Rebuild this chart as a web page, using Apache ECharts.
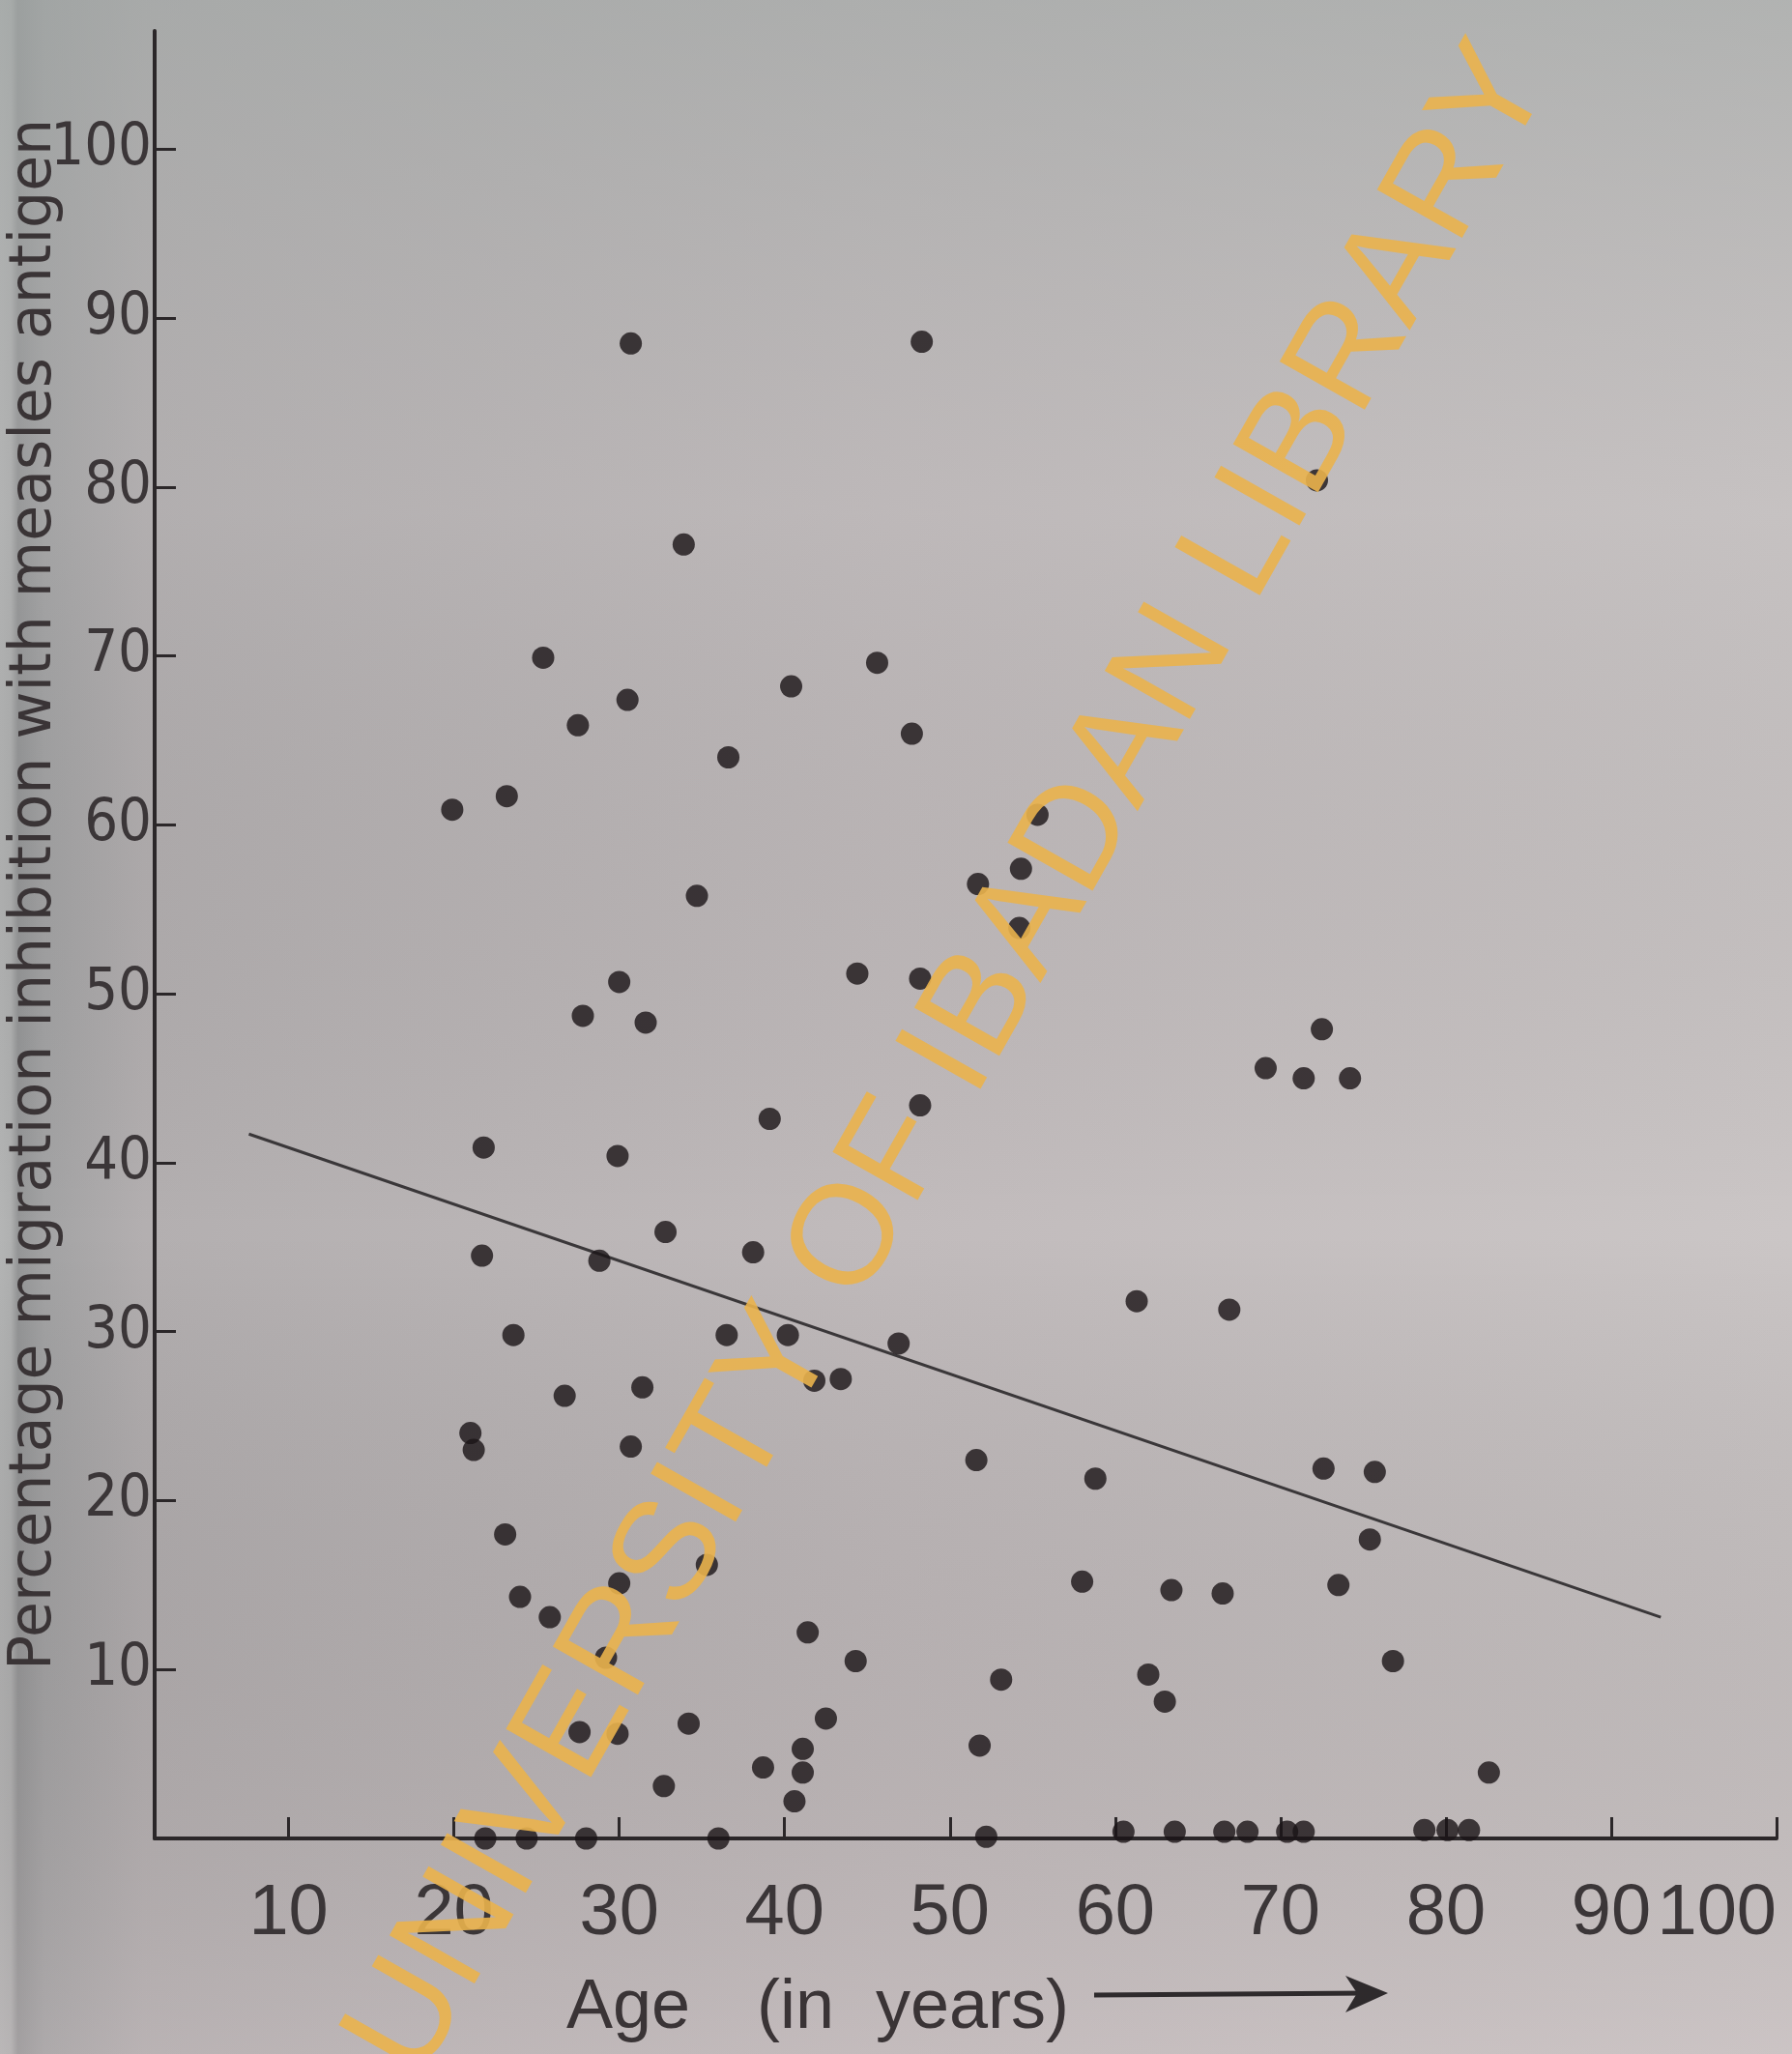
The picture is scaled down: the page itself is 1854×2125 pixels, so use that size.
<!DOCTYPE html>
<html>
<head>
<meta charset="utf-8">
<style>
  html, body { margin: 0; padding: 0; background: #c0babb; }
  #chart { width: 1854px; height: 2125px; }
</style>
<script src="https://cdn.jsdelivr.net/npm/echarts@6/dist/echarts.min.js"></script>
</head>
<body>
<div id="chart"></div>
<script>
// ---- data ----
// Age (years) of each subject
const ageValues = [
  30.7, 48.3, 72.2, 33.9, 25.4, 45.6, 30.5, 40.4, 27.5, 47.7, 36.6, 19.9, 23.2, 55.3,
  54.3, 51.7, 34.7, 54.2, 44.4, 48.2, 30.0, 27.8, 31.6,
  72.5, 69.1, 71.4, 74.2,
  48.2, 39.1, 21.8, 29.9,
  21.7, 28.8, 32.8, 38.1,
  61.3, 66.9,
  23.6, 36.5, 40.2, 46.9,
  41.8, 43.4, 31.4, 26.7,
  21.0, 21.2, 30.7, 51.6,
  58.8, 72.6, 75.7,
  23.1, 75.4,
  35.3, 30.0, 58.0, 63.4, 66.5, 73.5,
  24.0, 25.8, 41.4,
  29.2, 44.3, 76.8,
  62.0, 53.1, 63.0,
  42.5, 34.2, 27.6, 29.9,
  51.8, 41.1, 41.1, 38.7, 82.6,
  32.7, 40.6,
  21.9, 24.4, 28.0, 36.0, 52.2, 60.5, 63.6, 66.6, 68.0, 70.4, 71.4, 78.7, 80.1, 81.4
];
// Percentage migration inhibition of each subject
const inhibitionValues = [
  88.5, 88.6, 80.4, 76.6, 69.9, 69.6, 67.4, 68.2, 65.9, 65.4, 64.0, 60.9, 61.7, 60.6,
  57.4, 56.5, 55.8, 53.9, 51.2, 50.9, 50.7, 48.7, 48.3,
  47.9, 45.6, 45.0, 45.0,
  43.4, 42.6, 40.9, 40.4,
  34.5, 34.2, 35.9, 34.7,
  31.8, 31.3,
  29.8, 29.8, 29.8, 29.3,
  27.1, 27.2, 26.7, 26.2,
  24.0, 23.0, 23.2, 22.4,
  21.3, 21.9, 21.7,
  18.0, 17.7,
  16.2, 15.1, 15.2, 14.7, 14.5, 15.0,
  14.3, 13.1, 12.2,
  10.7, 10.5, 10.5,
  9.7, 9.4, 8.1,
  7.1, 6.8, 6.3, 6.2,
  5.5, 5.3, 3.9, 4.2, 3.9,
  3.1, 2.2,
  0.0, 0.0, 0.0, 0.0, 0.1, 0.4, 0.4, 0.4, 0.4, 0.4, 0.4, 0.5, 0.5, 0.5
];
// Regression line end points
const regressionAge = [7.6, 93.0];
const regressionPct = [41.7, 13.1];
// Tick labels
const xTickValues = [10, 20, 30, 40, 50, 60, 70, 80, 90, 100];
const yTickValues = [10, 20, 30, 40, 50, 60, 70, 80, 90, 100];

const yAxisTitle = 'Percentage migration inhibition with measles antigen';
const xAxisWords = ['Age', '(in', 'years)'];
const watermarkText = 'UNIVERSITY OF IBADAN LIBRARY';

// ---- build ----
const scatterData = ageValues.map((a, i) => [a, inhibitionValues[i]]);
const regressionData = regressionAge.map((a, i) => [a, regressionPct[i]]);

const ink = '#2b2729';
const labelInk = '#3b3638';

const chart = echarts.init(document.getElementById('chart'), null, { renderer: 'canvas' });

const option = {
  animation: false,
  backgroundColor: '#c0babb',
  grid: { left: 160, right: 16, top: 32, bottom: 223, outerBoundsMode: 'none' },
  xAxis: {
    type: 'value',
    min: 1.9,
    max: 100,
    splitLine: { show: false },
    axisLine: { show: true, lineStyle: { color: ink, width: 4 } },
    axisTick: { show: true, inside: true, length: 22, customValues: xTickValues,
                lineStyle: { color: ink, width: 3 } },
    axisLabel: {
      show: true, customValues: xTickValues, margin: 42,
      showMinLabel: true, showMaxLabel: true,
      fontFamily: "'Liberation Sans', Arial, sans-serif", fontSize: 74, color: labelInk,
      alignMaxLabel: 'right'
    }
  },
  yAxis: {
    type: 'value',
    min: 0,
    max: 107,
    splitLine: { show: false },
    axisLine: { show: true, lineStyle: { color: ink, width: 4 } },
    axisTick: { show: true, inside: true, length: 22, customValues: yTickValues,
                lineStyle: { color: ink, width: 3 } },
    axisLabel: {
      show: true, customValues: yTickValues, margin: 3,
      showMinLabel: true, showMaxLabel: true,
      fontFamily: "'DejaVu Sans Condensed', 'Liberation Sans', sans-serif",
      fontSize: 61, color: labelInk
    }
  },
  series: [
    {
      type: 'scatter',
      data: scatterData,
      symbol: 'circle',
      symbolSize: 23,
      clip: false,
      itemStyle: { color: '#1a1416' },
      z: 3
    },
    {
      type: 'line',
      data: regressionData,
      symbol: 'none',
      lineStyle: { color: '#3a3739', width: 3 },
      z: 2
    }
  ],
  graphic: [
    {
      type: 'rect', z: -100, silent: true,
      shape: { x: 0, y: 0, width: 1854, height: 2125 },
      style: {
        fill: {
          type: 'linear', x: 0, y: 0, x2: 1, y2: 0,
          colorStops: [
            { offset: 0, color: '#b4b5b5' },
            { offset: 0.006, color: '#b0b1b1' },
            { offset: 0.01, color: '#959697' },
            { offset: 0.025, color: '#a3a3a4' },
            { offset: 0.08, color: '#b3afb0' },
            { offset: 0.5, color: '#c1bbbc' },
            { offset: 1, color: '#cbc6c6' }
          ]
        }
      }
    },
    {
      type: 'rect', z: -99, silent: true,
      shape: { x: 0, y: 0, width: 1854, height: 2125 },
      style: {
        fill: {
          type: 'linear', x: 0, y: 0, x2: 0, y2: 1,
          colorStops: [
            { offset: 0, color: 'rgba(160,166,164,0.6)' },
            { offset: 0.25, color: 'rgba(170,170,170,0.15)' },
            { offset: 0.6, color: 'rgba(0,0,0,0)' },
            { offset: 1, color: 'rgba(205,190,192,0.25)' }
          ]
        }
      }
    },
    {
      type: 'text', z: 50, silent: true,
      x: 36, y: 1728, rotation: Math.PI / 2,
      style: {
        text: yAxisTitle,
        fontFamily: "'DejaVu Sans', sans-serif", fontSize: 60,
        fill: '#3a3436', textAlign: 'left', textVerticalAlign: 'middle'
      }
    },
    {
      type: 'text', z: 50, silent: true, x: 586, y: 2078,
      style: { text: xAxisWords[0], fontFamily: "'Liberation Sans', Arial, sans-serif", fontSize: 72,
               fill: '#3a3436', textAlign: 'left', textVerticalAlign: 'middle' }
    },
    {
      type: 'text', z: 50, silent: true, x: 783, y: 2078,
      style: { text: xAxisWords[1], fontFamily: "'Liberation Sans', Arial, sans-serif", fontSize: 72,
               fill: '#3a3436', textAlign: 'left', textVerticalAlign: 'middle' }
    },
    {
      type: 'text', z: 50, silent: true, x: 906, y: 2078,
      style: { text: xAxisWords[2], fontFamily: "'Liberation Sans', Arial, sans-serif", fontSize: 72,
               fill: '#3a3436', textAlign: 'left', textVerticalAlign: 'middle' }
    },
    {
      type: 'line', z: 50, silent: true,
      shape: { x1: 1132, y1: 2064, x2: 1415, y2: 2062 },
      style: { stroke: '#2e2a2c', lineWidth: 5 }
    },
    {
      type: 'polygon', z: 50, silent: true,
      shape: { points: [[1436, 2062], [1392, 2044], [1404, 2062], [1392, 2082]] },
      style: { fill: '#2e2a2c' }
    },
    {
      type: 'text', z: 200, silent: true,
      x: 984, y: 1098, rotation: 60.5 * Math.PI / 180,
      style: {
        text: watermarkText,
        fontFamily: "'Liberation Sans', Arial, sans-serif", fontSize: 147,
        fill: 'rgba(234,178,76,0.9)', textAlign: 'center', textVerticalAlign: 'middle'
      }
    }
  ]
};

chart.setOption(option);
</script>
</body>
</html>
